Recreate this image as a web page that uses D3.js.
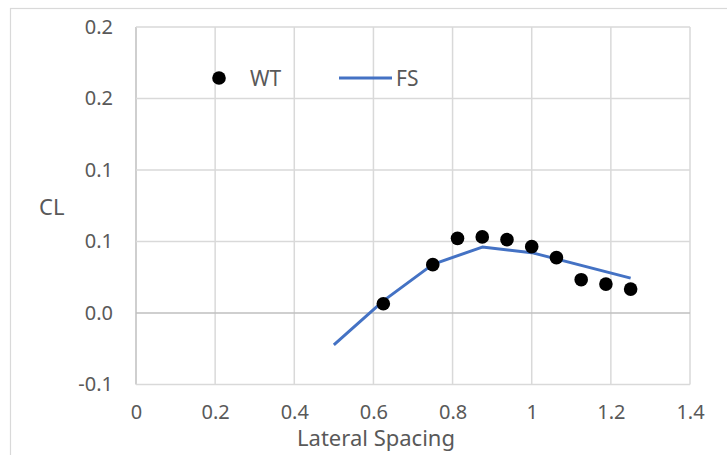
<!DOCTYPE html>
<html>
<head>
<meta charset="utf-8">
<script src="https://cdn.jsdelivr.net/npm/d3@7"></script>
<style>
  html, body { margin: 0; padding: 0; background: #fff; }
  svg { display: block; }
  text { font-family: "Noto Sans", "Open Sans", sans-serif; fill: #595959; }
</style>
</head>
<body>
<svg id="chart" width="727" height="455"></svg>
<script>
// Wind tunnel (WT) measurements
const wtSpacing = [0.625, 0.75, 0.8125, 0.875, 0.9375, 1.0, 1.0625, 1.125, 1.1875, 1.25];
const wtCL      = [0.0065, 0.0338, 0.0522, 0.0532, 0.0513, 0.0464, 0.0387, 0.0233, 0.0202, 0.0167];

// FS computed curve
const fsSpacing = [0.5, 0.625, 0.75, 0.875, 1.0, 1.25];
const fsCL      = [-0.0223, 0.0085, 0.0340, 0.0461, 0.0422, 0.0244];

// Axis ticks and their printed labels
const xTicks = [0, 0.2, 0.4, 0.6, 0.8, 1, 1.2, 1.4];
const xTickLabels = ["0", "0.2", "0.4", "0.6", "0.8", "1", "1.2", "1.4"];
const yTicks = [-0.05, 0, 0.05, 0.1, 0.15, 0.2];
const yTickLabels = ["-0.1", "0.0", "0.1", "0.1", "0.2", "0.2"];

const seriesNames = ["WT", "FS"];
const xTitle = "Lateral Spacing";
const yTitle = "CL";

const svg = d3.select("#chart");

// outer chart frame
svg.append("rect")
  .attr("x", 10.5).attr("y", 8.5)
  .attr("width", 740).attr("height", 470)
  .attr("fill", "#fff").attr("stroke", "#d9d9d9").attr("stroke-width", 1.2);

const plot = { left: 136, right: 690, top: 27, bottom: 384.5 };

const x = d3.scaleLinear().domain([0, 1.4]).range([plot.left, plot.right]);
const y = d3.scaleLinear().domain([-0.05, 0.2]).range([plot.bottom, plot.top]);

// gridlines
const grid = svg.append("g");
grid.selectAll("line.v").data(xTicks).join("line")
  .attr("class", "v")
  .attr("x1", d => x(d)).attr("x2", d => x(d))
  .attr("y1", plot.top).attr("y2", plot.bottom)
  .attr("stroke", d => d === 0 ? "#bfbfbf" : "#d9d9d9")
  .attr("stroke-width", 1.5);
grid.selectAll("line.h").data(yTicks).join("line")
  .attr("class", "h")
  .attr("x1", plot.left).attr("x2", plot.right)
  .attr("y1", d => y(d)).attr("y2", d => y(d))
  .attr("stroke", d => d === 0 ? "#bfbfbf" : "#d9d9d9")
  .attr("stroke-width", 1.5);

// axis tick labels via d3 axes
const xAxis = d3.axisBottom(x)
  .tickValues(xTicks)
  .tickFormat((d, i) => xTickLabels[i])
  .tickSize(0).tickPadding(20);
const gx = svg.append("g")
  .attr("transform", `translate(0,${plot.bottom})`)
  .call(xAxis);
gx.select(".domain").remove();
gx.selectAll("text").attr("font-size", 20).attr("fill", "#595959")
  .style("font-family", "'Noto Sans', sans-serif");

const yAxis = d3.axisLeft(y)
  .tickValues(yTicks)
  .tickFormat((d, i) => yTickLabels[i])
  .tickSize(0).tickPadding(23);
const gy = svg.append("g")
  .attr("transform", `translate(${plot.left},0)`)
  .call(yAxis);
gy.select(".domain").remove();
gy.selectAll("text").attr("font-size", 20).attr("fill", "#595959")
  .style("font-family", "'Noto Sans', sans-serif");

// axis titles
svg.append("text")
  .attr("x", 376).attr("y", 446)
  .attr("text-anchor", "middle")
  .attr("font-size", 22)
  .text(xTitle);
svg.append("text")
  .attr("x", 39).attr("y", 215)
  .attr("font-size", 22)
  .text(yTitle);

// FS line
const fsData = fsSpacing.map((s, i) => [s, fsCL[i]]);
svg.append("path")
  .datum(fsData)
  .attr("fill", "none")
  .attr("stroke", "#4472c4")
  .attr("stroke-width", 3)
  .attr("stroke-linejoin", "round")
  .attr("d", d3.line().x(d => x(d[0])).y(d => y(d[1])));

// WT markers
const wtData = wtSpacing.map((s, i) => [s, wtCL[i]]);
svg.append("g").selectAll("circle").data(wtData).join("circle")
  .attr("cx", d => x(d[0])).attr("cy", d => y(d[1]))
  .attr("r", 6.8)
  .attr("fill", "#000");

// legend
const lg = svg.append("g");
lg.append("circle").attr("cx", 219).attr("cy", 78).attr("r", 6.8).attr("fill", "#000");
lg.append("text").attr("x", 250).attr("y", 85.5).attr("font-size", 21).text(seriesNames[0]);
lg.append("line")
  .attr("x1", 339).attr("x2", 392).attr("y1", 78).attr("y2", 78)
  .attr("stroke", "#4472c4").attr("stroke-width", 3);
lg.append("text").attr("x", 396).attr("y", 85.5).attr("font-size", 21).text(seriesNames[1]);
</script>
</body>
</html>
